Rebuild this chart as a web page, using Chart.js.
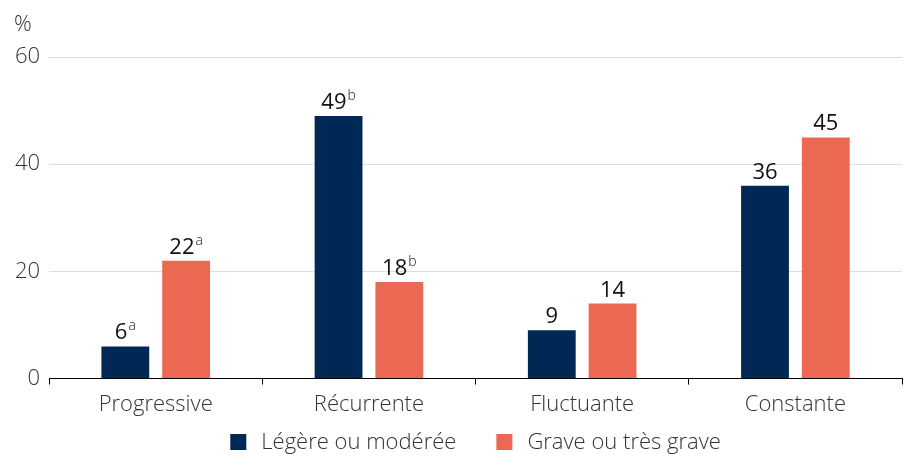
<!DOCTYPE html>
<html lang="fr">
<head>
  <meta charset="UTF-8" />
  <title>Évolution</title>
  <script src="https://cdn.jsdelivr.net/npm/chart.js"></script>
  <style>
    html, body { margin: 0; padding: 0; background: #fff; }
    #wrap { width: 906px; height: 456px; position: relative; }
  </style>
</head>
<body>
  <div id="wrap"><canvas id="graph"></canvas></div>
  <script>
    // données
    const categories = ['Progressive', 'Récurrente', 'Fluctuante', 'Constante'];
    const legere = [6, 49, 9, 36];
    const grave = [22, 18, 14, 45];
    const legereNotes = ['a', 'b', '', ''];
    const graveNotes = ['a', 'b', '', ''];
    const yTicks = [0, 20, 40, 60];

    const navy = '#002855';
    const salmon = '#EB6853';
    const police = "'Open Sans', sans-serif";

    // étiquettes de valeur avec exposant
    const etiquettes = {
      id: 'etiquettes',
      afterDatasetsDraw(chart) {
        const ctx = chart.ctx;
        ctx.save();
        ctx.fillStyle = '#111';
        ctx.textBaseline = 'alphabetic';
        chart.data.datasets.forEach((ds, di) => {
          const notes = di === 0 ? legereNotes : graveNotes;
          chart.getDatasetMeta(di).data.forEach((bar, i) => {
            const txt = String(ds.data[i]);
            const note = notes[i];
            ctx.font = '22px ' + police;
            const w1 = ctx.measureText(txt).width;
            ctx.font = '300 14px ' + police;
            const w2 = note ? ctx.measureText(note).width + 1 : 0;
            const x0 = bar.x - (w1 + w2) / 2;
            const y0 = bar.y - 7;
            ctx.font = '22px ' + police;
            ctx.textAlign = 'left';
            ctx.fillText(txt, x0, y0);
            if (note) {
              ctx.font = '300 14px ' + police;
              ctx.fillText(note, x0 + w1 + 1, y0 - 9);
            }
          });
        });
        // unité
        ctx.font = '300 22px ' + police;
        ctx.fillStyle = '#333';
        ctx.textAlign = 'left';
        ctx.fillText('%', 14, 31);
        ctx.restore();
      }
    };

    // légende dessinée à la main, centrée sous la zone du graphique
    const legende = {
      id: 'legende',
      afterDraw(chart) {
        const ctx = chart.ctx;
        const area = chart.chartArea;
        const box = 16, gapTexte = 15, gapItem = 40, yMid = 442;
        ctx.save();
        ctx.font = '300 22px ' + police;
        ctx.textBaseline = 'middle';
        ctx.textAlign = 'left';
        const items = chart.data.datasets.map(ds => ({
          label: ds.label, color: ds.backgroundColor, w: ctx.measureText(ds.label).width
        }));
        const total = items.reduce((s, it) => s + box + gapTexte + it.w, 0) + gapItem * (items.length - 1);
        let x = (area.left + area.right) / 2 - total / 2;
        items.forEach(it => {
          ctx.fillStyle = it.color;
          ctx.fillRect(x, yMid - box / 2, box, box);
          ctx.fillStyle = '#333';
          ctx.fillText(it.label, x + box + gapTexte, yMid + 1);
          x += box + gapTexte + it.w + gapItem;
        });
        ctx.restore();
      }
    };

    new Chart(document.getElementById('graph'), {
      type: 'bar',
      data: {
        labels: categories,
        datasets: [
          { label: 'Légère ou modérée', data: legere, backgroundColor: navy },
          { label: 'Grave ou très grave', data: grave, backgroundColor: salmon }
        ]
      },
      options: {
        responsive: true,
        maintainAspectRatio: false,
        animation: false,
        categoryPercentage: 0.57,
        barPercentage: 0.787,
        layout: { padding: { top: 57, right: 4, left: 6, bottom: 31 } },
        plugins: {
          tooltip: { enabled: false },
          legend: { display: false }
        },
        scales: {
          x: {
            border: { color: '#000', width: 1 },
            grid: { display: true, drawOnChartArea: false, color: '#000', tickLength: 6, offset: true },
            ticks: { color: '#333', font: { family: police, size: 22, weight: 300 }, padding: 7 }
          },
          y: {
            min: 0,
            max: 60,
            afterBuildTicks: (scale) => { scale.ticks = yTicks.map(v => ({ value: v })); },
            border: { display: false },
            grid: { color: '#dddddd', drawTicks: false },
            ticks: { color: '#333', font: { family: police, size: 22, weight: 300 }, padding: 9 }
          }
        }
      },
      plugins: [etiquettes, legende]
    });
  </script>
</body>
</html>
